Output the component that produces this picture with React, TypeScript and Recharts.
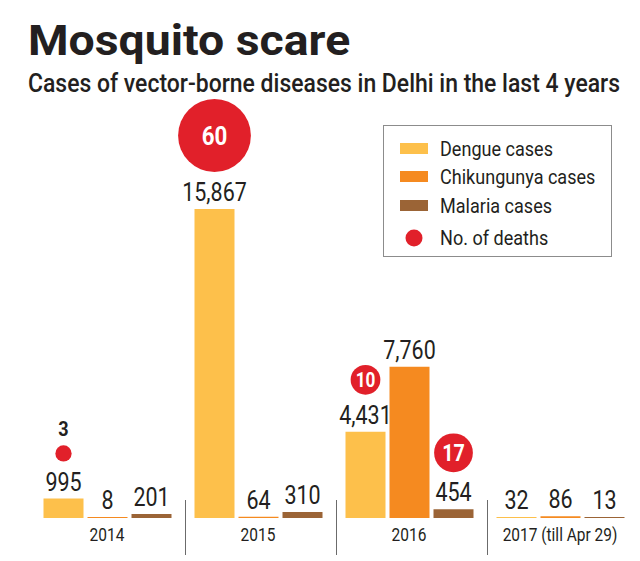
import React from 'react';
import { ComposedChart, Bar, XAxis, YAxis, Legend, LabelList } from 'recharts';

// ---- data ----
const years = ['2014', '2015', '2016', '2017 (till Apr 29)'];
const dengueCases = [995, 15867, 4431, 32];
const chikungunyaCases = [8, 64, 7760, 86];
const malariaCases = [201, 310, 454, 13];
const dengueDeaths = [3, 60, 10, null];
// the graphic shows this marker to the right of the chikungunya bar (over the malaria bar)
const chikungunyaDeaths = [null, null, 17, null];

const seriesNames = ['Dengue cases', 'Chikungunya cases', 'Malaria cases'];
const deathsName = 'No. of deaths';

const data = years.map((year, i) => ({
  year,
  dengue: dengueCases[i],
  chik: chikungunyaCases[i],
  malaria: malariaCases[i],
}));

// ---- styles ----
const INK = '#231f20';
const RED = '#e1202a';
const COLORS = ['#fdc04b', '#f58a20', '#9b6436'];
const FONT = 'Roboto, "Noto Sans", sans-serif';
const SQX = 0.86; // condensed look
const BAND = 151;

const fmt = (v: number) => Number(v).toLocaleString('en-US');

const makeLabel = (deaths: (number | null)[] | null) => (props: any) => {
  const x = Number(props.x);
  const y = Number(props.y);
  const width = Number(props.width);
  const { value, index } = props;
  const cx = x + width / 2;
  const d = deaths ? deaths[index] : null;
  let marker: any = null;
  if (d) {
    const r = 4.7 * Math.sqrt(d);
    const cy = y - 37 - r;
    if (r < 12) {
      marker = (
        <g>
          <circle cx={cx} cy={cy} r={r} fill={RED} />
          <text
            transform={`translate(${cx},${cy - r - 9}) scale(${SQX},1)`}
            textAnchor="middle"
            fontFamily={FONT}
            fontWeight={700}
            fontSize={21}
            fill={INK}
          >
            {d}
          </text>
        </g>
      );
    } else {
      const fs = r > 30 ? 26 : r > 18 ? 23 : 20;
      marker = (
        <g>
          <circle cx={cx} cy={cy} r={r} fill={RED} />
          <text
            transform={`translate(${cx},${cy + fs * 0.36}) scale(${SQX},1)`}
            textAnchor="middle"
            fontFamily={FONT}
            fontWeight={700}
            fontSize={fs}
            fill="#fff"
          >
            {d}
          </text>
        </g>
      );
    }
  }
  return (
    <g>
      <text
        transform={`translate(${cx},${y - 8}) scale(${SQX},1)`}
        textAnchor="middle"
        fontFamily={FONT}
        fontSize={25}
        fill={INK}
      >
        {fmt(value)}
      </text>
      {marker}
    </g>
  );
};

const YearTick = (props: any) => {
  const x = Number(props.x);
  const y = Number(props.y);
  const { payload, index } = props;
  const sx = x - BAND / 2 + 3;
  return (
    <g>
      <text
        transform={`translate(${x},${y + 23}) scale(${SQX},1)`}
        textAnchor="middle"
        fontFamily={FONT}
        fontSize={18}
        fill={INK}
      >
        {payload.value}
      </text>
      {index > 0 && <line x1={sx} x2={sx} y1={y - 18} y2={y + 37} stroke="#6b6b6b" strokeWidth={1} />}
    </g>
  );
};

const LegendBox = () => {
  const rows = [30, 58, 87, 119];
  return (
    <div style={{ width: 229, height: 132, border: '1px solid #8c8c8c', boxSizing: 'border-box', background: '#fff' }}>
      <svg width={227} height={130} style={{ display: 'block' }}>
        {seriesNames.map((n, i) => (
          <g key={n}>
            <rect x={16} y={rows[i] - 13} width={28} height={11} fill={COLORS[i]} />
            <text
              transform={`translate(56,${rows[i]}) scale(${SQX},1)`}
              fontFamily={FONT}
              fontSize={21}
              fill={INK}
            >
              {n}
            </text>
          </g>
        ))}
        <circle cx={30} cy={rows[3] - 7} r={8.5} fill={RED} />
        <text transform={`translate(56,${rows[3]}) scale(${SQX},1)`} fontFamily={FONT} fontSize={21} fill={INK}>
          {deathsName}
        </text>
      </svg>
    </div>
  );
};

export default function App() {
  return (
    <div style={{ position: 'absolute', left: 0, top: 0, width: 640, height: 561, background: '#fff', overflow: 'hidden' }}>
      <svg width={640} height={110} style={{ position: 'absolute', left: 0, top: 0 }}>
        <text
          transform="translate(28,55) scale(0.9,1)"
          fontFamily={FONT}
          fontWeight={700}
          fontSize={42}
          fill={INK}
          textLength={358}
          lengthAdjust="spacingAndGlyphs"
        >
          Mosquito scare
        </text>
        <text
          transform="translate(28,92) scale(0.8,1)"
          fontFamily={FONT}
          fontWeight={500}
          fontSize={25}
          fill={INK}
          textLength={740}
          lengthAdjust="spacingAndGlyphs"
        >
          Cases of vector-borne diseases in Delhi in the last 4 years
        </text>
      </svg>
      <div style={{ position: 'absolute', left: 0, top: 0 }}>
        <ComposedChart
          width={640}
          height={561}
          data={data}
          margin={{ top: 128.4, right: 4.5, bottom: 0, left: 31.5 }}
          barGap={4}
          barSize={40}
        >
          <XAxis
            dataKey="year"
            height={43}
            axisLine={false}
            tickLine={false}
            tickSize={0}
            tickMargin={0}
            interval={0}
            tick={<YearTick />}
          />
          <YAxis hide domain={[0, 20000]} />
          <Legend
            layout="vertical"
            align="center"
            verticalAlign="middle"
            wrapperStyle={{ top: 125, left: 383, width: 229, height: 132 }}
            content={<LegendBox />}
          />
          <Bar dataKey="dengue" name={seriesNames[0]} fill={COLORS[0]} isAnimationActive={false} minPointSize={1}>
            <LabelList dataKey="dengue" content={makeLabel(dengueDeaths)} />
          </Bar>
          <Bar dataKey="chik" name={seriesNames[1]} fill={COLORS[1]} isAnimationActive={false} minPointSize={1}>
            <LabelList dataKey="chik" content={makeLabel(null)} />
          </Bar>
          <Bar dataKey="malaria" name={seriesNames[2]} fill={COLORS[2]} isAnimationActive={false} minPointSize={1}>
            <LabelList dataKey="malaria" content={makeLabel(chikungunyaDeaths)} />
          </Bar>
        </ComposedChart>
      </div>
    </div>
  );
}
